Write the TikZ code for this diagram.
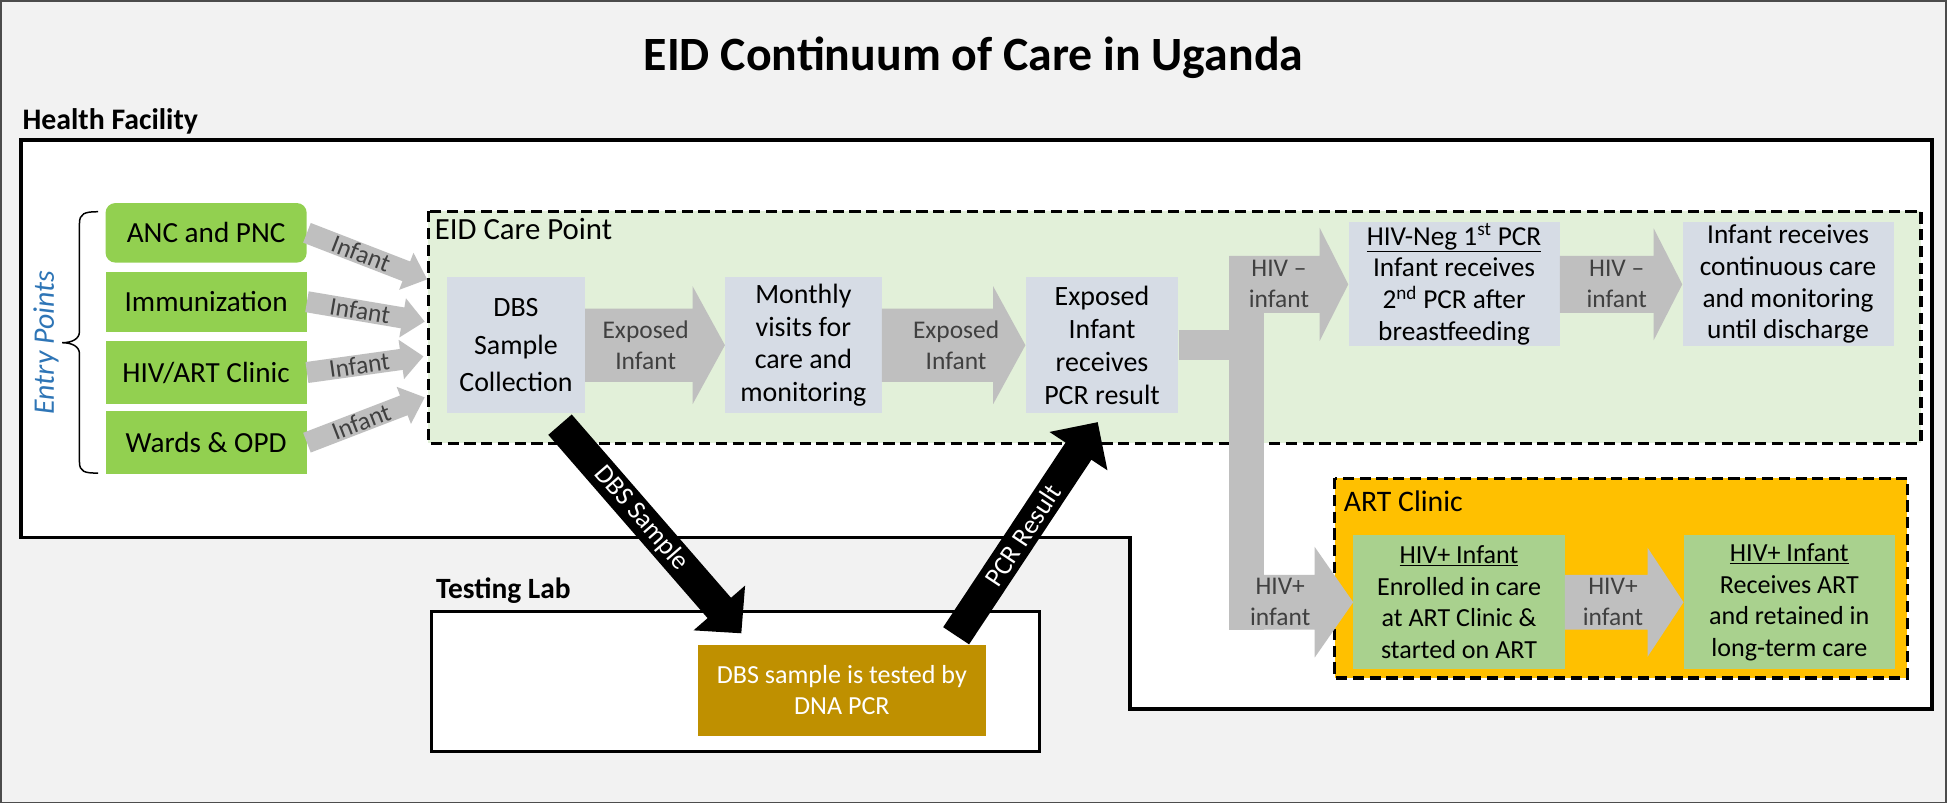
\documentclass[tikz,border=0pt]{standalone}
\usepackage{fontspec}
\setmainfont{Carlito}
\usetikzlibrary{calc}
\definecolor{bg}{HTML}{F2F2F2}
\definecolor{entrygreen}{HTML}{92D050}
\definecolor{ecpgreen}{HTML}{E2F0D9}
\definecolor{boxgray}{HTML}{D6DCE5}
\definecolor{arrowgray}{HTML}{BFBFBF}
\definecolor{labelgray}{HTML}{404040}
\definecolor{artorange}{HTML}{FFC000}
\definecolor{hivgreen}{HTML}{A9D18E}
\definecolor{labbrown}{HTML}{BF9000}
\definecolor{entryblue}{HTML}{2E75B6}
\newcommand\blockarrow[6]{%
  \coordinate (ba-a) at (#2);
  \coordinate (ba-b) at (#3);
  \coordinate (ba-h) at ($(ba-b)!#6!(ba-a)$);
  \fill[#1] ($(ba-a)!#4!90:(ba-b)$) -- ($(ba-h)!#4!90:(ba-b)$) -- ($(ba-h)!#5!90:(ba-b)$)
    -- (ba-b) -- ($(ba-h)!#5!-90:(ba-b)$) -- ($(ba-h)!#4!-90:(ba-b)$) -- ($(ba-a)!#4!-90:(ba-b)$) -- cycle;
}
\tikzset{
  entry/.style={fill=entrygreen, minimum width=162pt, minimum height=48pt, inner sep=0pt,
    font=\fontsize{23.5}{26}\selectfont},
  gbox/.style={fill=boxgray, inner sep=0pt, align=center, font=\fontsize{22.5}{26.5}\selectfont},
  hbox/.style={fill=hivgreen, inner sep=0pt, align=center, font=\fontsize{21}{25.5}\selectfont},
  alabel/.style={text=labelgray, align=center, inner sep=0pt, font=\fontsize{20.5}{25}\selectfont},
  wlabel/.style={text=white, inner sep=0pt, font=\fontsize{21.5}{24}\selectfont},
  dashbox/.style={draw=black, line width=2.5pt, dash pattern=on 9pt off 4.5pt},
}
\begin{document}
\begin{tikzpicture}[x=1pt,y=-1pt]
\useasboundingbox (0,0) rectangle (1568,647);
\fill[bg] (0,0) rectangle (1568,647);
\draw[black!70, line width=1.5pt] (0.75,0.75) rectangle (1567.25,646.25);

% title and area labels
\node[anchor=base, inner sep=0pt, font=\bfseries\fontsize{38.5}{40}\selectfont] (title) at (784,57) {EID Continuum of Care in Uganda};
\node[anchor=base west, inner sep=0pt, font=\bfseries\fontsize{24}{26}\selectfont] (hflabel) at (18,104) {Health Facility};

% health facility outline
\draw[line width=2.7pt, fill=white] (17,112.7) -- (1556,112.7) -- (1556,571) -- (910,571) -- (910,433) -- (17,433) -- cycle;

% testing lab
\node[anchor=base west, inner sep=0pt, font=\bfseries\fontsize{23.7}{26}\selectfont] (lablabel) at (351,482) {Testing Lab};
\draw[line width=2.5pt, fill=white] (347.5,492.6) rectangle (836.8,605);
\node[fill=labbrown, text=white, align=center, inner sep=0pt, minimum width=232pt, minimum height=73.5pt,
  font=\fontsize{21}{25}\selectfont] (pcrlab) at (678,556) {DBS sample is tested by\\DNA PCR};

% EID care point and ART clinic areas
\draw[dashbox, fill=ecpgreen] (345,170) rectangle (1547,357);
\node[anchor=base west, inner sep=0pt, font=\fontsize{24.8}{26}\selectfont] (ecplabel) at (350,193) {EID Care Point};
\draw[dashbox, fill=artorange] (1075,385) rectangle (1536,546);
\node[anchor=base west, inner sep=0pt, font=\fontsize{24}{26}\selectfont] (artlabel) at (1082,412) {ART Clinic};

% entry points
\node[rotate=90, text=entryblue, inner sep=0pt, font=\itshape\fontsize{24}{26}\selectfont] (entrylabel) at (37,276) {Entry Points};
\draw[line width=1.2pt] (79,170.5) .. controls (68,170.5) and (64,172) .. (64,180) -- (64,267)
  .. controls (64,273) and (58,276) .. (50,276) .. controls (58,276) and (64,279) .. (64,285)
  -- (64,372) .. controls (64,380) and (68,381) .. (79,381);
\node[entry, rounded corners=8pt] (anc) at (166,187.5) {ANC and PNC};
\node[entry] (imm) at (166,243) {Immunization};
\node[entry, minimum height=50pt] (hiv) at (166,300) {HIV/ART Clinic};
\node[entry, minimum height=51pt] (wards) at (166,356.5) {Wards \& OPD};

% EID care point boxes
\node[gbox, minimum width=111pt, minimum height=110pt, font=\fontsize{22.5}{30}\selectfont] (dbs) at (415.5,278) {DBS\\Sample\\Collection};
\node[gbox, minimum width=126pt, minimum height=110pt] (mon) at (647,278) {Monthly\\visits for\\care and\\monitoring};
\node[gbox, minimum width=123pt, minimum height=110pt] (exp) at (887.5,278) {Exposed\\Infant\\receives\\PCR result};
\node[gbox, minimum width=170pt, minimum height=100pt, font=\fontsize{22}{25.5}\selectfont] (neg) at (1171,229)
  {\underline{HIV-Neg 1\textsuperscript{st} PCR}\\Infant receives\\2\textsuperscript{nd} PCR after\\breastfeeding};
\node[gbox, minimum width=170pt, minimum height=100pt, font=\fontsize{22}{25.5}\selectfont] (cont) at (1440,229)
  {Infant receives\\continuous care\\and monitoring\\until discharge};

% ART clinic boxes
\node[hbox, minimum width=170pt, minimum height=108pt] (enr) at (1175,485)
  {\underline{HIV+ Infant}\\Enrolled in care\\at ART Clinic \&\\started on ART};
\node[hbox, minimum width=170pt, minimum height=108pt] (rec) at (1441,485)
  {\underline{HIV+ Infant}\\Receives ART\\and retained in\\long-term care};

% infant arrows from entry points
\coordinate (t1) at (344,225);
\coordinate (t2) at (342,259);
\coordinate (t3) at (341,287);
\coordinate (t4) at (342,320);
\blockarrow{arrowgray}{anc.east}{t1}{8.5pt}{16pt}{18pt}
\blockarrow{arrowgray}{imm.east}{t2}{8.5pt}{16pt}{18pt}
\blockarrow{arrowgray}{hiv.east}{t3}{8.5pt}{16pt}{18pt}
\blockarrow{arrowgray}{wards.east}{t4}{8.5pt}{16pt}{18pt}
\path (anc.east) -- (t1) node[alabel, sloped, pos=0.45] (il1) {Infant};
\path (imm.east) -- (t2) node[alabel, sloped, pos=0.45] (il2) {Infant};
\path (hiv.east) -- (t3) node[alabel, sloped, pos=0.45] (il3) {Infant};
\path (wards.east) -- (t4) node[alabel, sloped, pos=0.46] (il4) {Infant};

% exposed infant arrows
\blockarrow{arrowgray}{dbs.east}{mon.west}{29.5pt}{47.5pt}{26pt}
\blockarrow{arrowgray}{mon.east}{exp.west}{29.5pt}{47.5pt}{26pt}
\node[alabel] (el1) at (520,278) {Exposed\\Infant};
\node[alabel] (el2) at (770,278) {Exposed\\Infant};

% split after PCR result
\coordinate (split) at (1018,278);
\coordinate (bartop) at (1004,206);
\coordinate (barbot) at (1004,507);
\coordinate (negstart) at (990,229);
\coordinate (posstart) at (990,485);
\draw[arrowgray, line width=24pt] (exp.east) -- (split);
\draw[arrowgray, line width=28pt] (bartop) -- (barbot);
\blockarrow{arrowgray}{negstart}{neg.west}{23pt}{45.5pt}{23pt}
\blockarrow{arrowgray}{neg.east}{cont.west}{23pt}{45pt}{23pt}
\blockarrow{arrowgray}{posstart}{enr.west}{22pt}{44.5pt}{31pt}
\blockarrow{arrowgray}{enr.east}{rec.west}{22pt}{44pt}{29pt}
\node[alabel] (nl1) at (1030,229) {HIV –\\infant};
\node[alabel] (nl2) at (1302,229) {HIV –\\infant};
\node[alabel] (pl1) at (1031,485) {HIV+\\infant};
\node[alabel] (pl2) at (1299,485) {HIV+\\infant};

% DBS sample / PCR result arrows
\coordinate (dbsA) at (451,342);
\coordinate (dbsB) at (597,510);
\coordinate (pcrA) at (770,512);
\coordinate (pcrB) at (884,340);
\blockarrow{black}{dbsA}{dbsB}{12.5pt}{27.5pt}{27pt}
\blockarrow{black}{pcrA}{pcrB}{12.5pt}{28pt}{28pt}
\path (dbsA) -- (dbsB) node[wlabel, sloped, pos=0.45] (dl) {DBS Sample};
\path (pcrA) -- (pcrB) node[wlabel, sloped, pos=0.47] (pl) {PCR Result};
\end{tikzpicture}
\end{document}
